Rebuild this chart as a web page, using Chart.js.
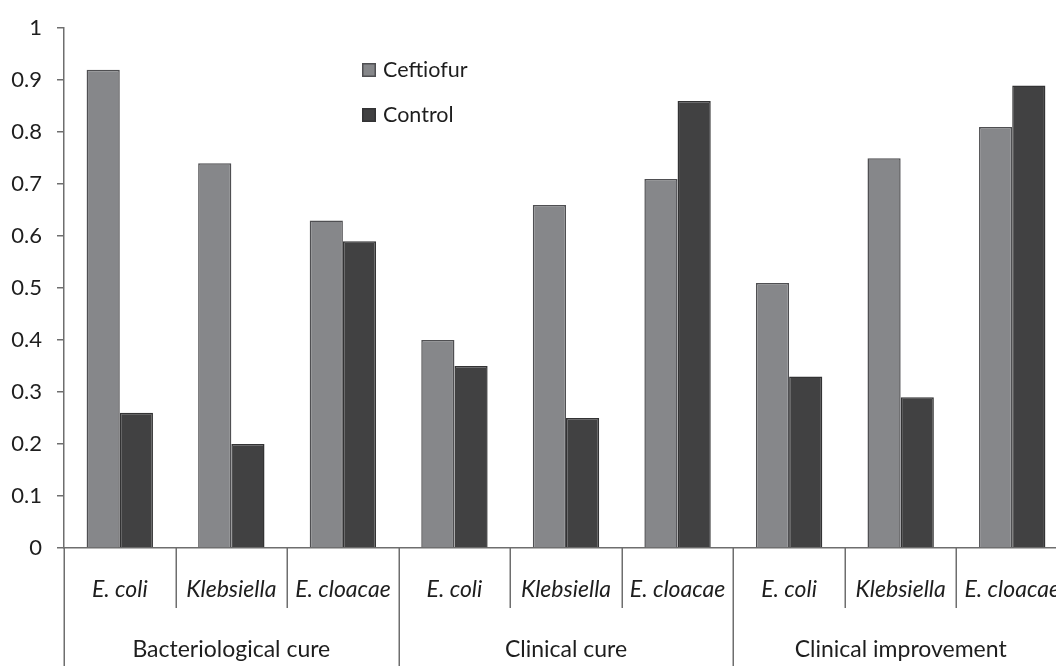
<!DOCTYPE html>
<html>
<head>
<meta charset="utf-8">
<script src="https://cdn.jsdelivr.net/npm/chart.js@4.4.0/dist/chart.umd.min.js"></script>
<style>
  html, body { margin: 0; padding: 0; background: #fff; overflow: hidden; }
  #wrap { width: 1056px; height: 666px; overflow: hidden; position: relative; }
  #box { width: 1068px; height: 666px; position: absolute; left: 0; top: 0; }
</style>
</head>
<body>
<div id="wrap"><div id="box"><canvas id="c"></canvas></div></div>
<script>
// Outcome groups and organisms (each group repeats the three organisms)
const outcomes = ['Bacteriological cure', 'Clinical cure', 'Clinical improvement'];
const organisms = ['E. coli', 'Klebsiella', 'E. cloacae'];
const categories = [
  'E. coli', 'Klebsiella', 'E. cloacae',
  'E. coli', 'Klebsiella', 'E. cloacae',
  'E. coli', 'Klebsiella', 'E. cloacae'
];

// Proportions per treatment arm
const ceftiofur = [0.92, 0.74, 0.63, 0.40, 0.66, 0.71, 0.51, 0.75, 0.81];
const control   = [0.26, 0.20, 0.59, 0.35, 0.25, 0.86, 0.33, 0.29, 0.89];

const yTickLabels = ['0', '0.1', '0.2', '0.3', '0.4', '0.5', '0.6', '0.7', '0.8', '0.9', '1'];

const FONT = 'Lato, "Open Sans", sans-serif';
const AXIS = '#6e6e6e';
const TEXT = '#1e1e1e';

// Draws the two-level category axis and the in-plot legend
const groupedAxis = {
  id: 'groupedAxis',
  afterDraw(chart) {
    const ctx = chart.ctx;
    const xs = chart.scales.x;
    const ca = chart.chartArea;
    const H = chart.height;
    ctx.save();
    ctx.strokeStyle = AXIS;
    ctx.lineWidth = 1.5;
    // separators between categories; group boundaries run to the bottom
    for (let i = 0; i <= categories.length; i++) {
      const x = Math.round(xs.getPixelForValue(i - 0.5)) + 0.25;
      const yEnd = (i % organisms.length === 0) ? H : 608;
      ctx.beginPath();
      ctx.moveTo(x, ca.bottom);
      ctx.lineTo(x, yEnd);
      ctx.stroke();
    }
    ctx.fillStyle = TEXT;
    ctx.textAlign = 'center';
    ctx.textBaseline = 'alphabetic';
    ctx.font = 'italic 23px ' + FONT;
    categories.forEach((lab, i) => {
      ctx.fillText(lab, xs.getPixelForValue(i), 597);
    });
    ctx.font = '23px ' + FONT;
    outcomes.forEach((lab, g) => {
      ctx.fillText(lab, xs.getPixelForValue(g * organisms.length + 1), 657);
    });

    // legend
    const rows = [63, 108];
    ctx.textAlign = 'left';
    ctx.textBaseline = 'middle';
    ctx.font = '21.5px ' + FONT;
    chart.data.datasets.forEach((ds, k) => {
      const y = rows[k];
      ctx.fillStyle = ds.backgroundColor;
      ctx.fillRect(362, y, 14, 14);
      ctx.strokeStyle = ds.borderColor;
      ctx.lineWidth = 1.5;
      ctx.strokeRect(362.75, y + 0.75, 12.5, 12.5);
      ctx.fillStyle = TEXT;
      ctx.fillText(ds.label, 383, y + 7);
    });
    ctx.restore();
  }
};

new Chart(document.getElementById('c'), {
  type: 'bar',
  data: {
    labels: categories,
    datasets: [
      {
        label: 'Ceftiofur',
        data: ceftiofur,
        backgroundColor: '#86878a',
        borderColor: '#4f4f52',
        borderWidth: 1.5
      },
      {
        label: 'Control',
        data: control,
        backgroundColor: '#414142',
        borderColor: '#333334',
        borderWidth: 1.5
      }
    ]
  },
  options: {
    responsive: true,
    maintainAspectRatio: false,
    animation: false,
    devicePixelRatio: 1,
    layout: { padding: { top: 17, right: 0, bottom: 0, left: 0 } },
    datasets: { bar: { categoryPercentage: 0.595, barPercentage: 1.0 } },
    plugins: {
      legend: { display: false },
      tooltip: { enabled: false }
    },
    scales: {
      x: {
        offset: true,
        grid: { display: false },
        ticks: { display: false },
        border: { display: true, color: AXIS, width: 1.5 },
        afterFit(s) { s.height = 118; }
      },
      y: {
        min: 0,
        max: 1,
        ticks: {
          stepSize: 0.1,
          padding: 15,
          color: TEXT,
          font: { family: FONT, size: 22 },
          callback: (v, i) => yTickLabels[i]
        },
        grid: {
          drawOnChartArea: false,
          drawTicks: true,
          tickLength: 7,
          color: AXIS,
          lineWidth: 1.5
        },
        border: { display: true, color: AXIS, width: 1.5 },
        afterFit(s) { s.width = 64; }
      }
    }
  },
  plugins: [groupedAxis]
});
</script>
</body>
</html>
